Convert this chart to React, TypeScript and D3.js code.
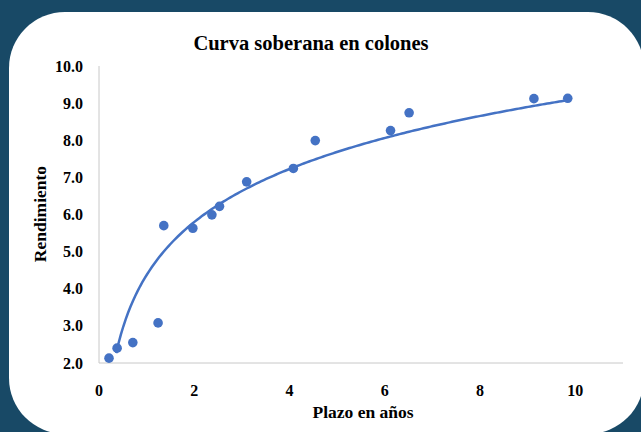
// @ts-nocheck
import { useRef, useEffect } from "react";
import * as d3 from "d3";

// plazo (años) y rendimiento (%)
const plazos = [0.21, 0.38, 0.71, 1.24, 1.36, 1.97, 2.37, 2.53, 3.1, 4.08, 4.54, 6.12, 6.51, 9.13, 9.84];
const rendimientos = [2.13, 2.4, 2.55, 3.08, 5.7, 5.63, 5.99, 6.22, 6.88, 7.24, 7.99, 8.26, 8.74, 9.12, 9.13];
const xTicks = [0, 2, 4, 6, 8, 10];
const yTicks = [2, 3, 4, 5, 6, 7, 8, 9, 10];
// línea de tendencia logarítmica: y = a ln(x) + b
const trendA = 2.06;
const trendB = 4.37;
const trendStart = 0.36;

const W = 641;
const H = 432;

const App = () => {
  const svgRef = useRef();

  useEffect(() => {
    const svg = d3.select(svgRef.current);
    svg.selectAll("*").remove();

    const data = plazos.map((p, i) => ({ x: p, y: rendimientos[i] }));

    // fondo
    svg.append("rect").attr("width", W).attr("height", H).attr("fill", "#184966");
    svg
      .append("rect")
      .attr("x", 9)
      .attr("y", 12)
      .attr("width", 635)
      .attr("height", 422)
      .attr("rx", 56)
      .attr("ry", 56)
      .attr("fill", "#ffffff");

    const x = d3.scaleLinear().domain([0, 11]).range([99, 623]);
    const y = d3.scaleLinear().domain([2, 10]).range([363, 66]);

    const font = "'Liberation Serif', 'DejaVu Serif', serif";

    // ejes
    svg
      .append("line")
      .attr("x1", x(0)).attr("x2", x(0))
      .attr("y1", y(10)).attr("y2", y(2))
      .attr("stroke", "#c8c8c8").attr("stroke-width", 1);
    svg
      .append("line")
      .attr("x1", x(0)).attr("x2", x(11))
      .attr("y1", y(2)).attr("y2", y(2))
      .attr("stroke", "#c8c8c8").attr("stroke-width", 1);

    svg
      .append("g")
      .selectAll("text")
      .data(yTicks)
      .enter()
      .append("text")
      .attr("x", 83)
      .attr("y", (d) => y(d))
      .attr("dy", "0.35em")
      .attr("text-anchor", "end")
      .attr("font-family", font)
      .attr("font-weight", "bold")
      .attr("font-size", 16)
      .text((d) => d.toFixed(1));

    svg
      .append("g")
      .selectAll("text")
      .data(xTicks)
      .enter()
      .append("text")
      .attr("x", (d) => x(d))
      .attr("y", 390)
      .attr("dy", "0.35em")
      .attr("text-anchor", "middle")
      .attr("font-family", font)
      .attr("font-weight", "bold")
      .attr("font-size", 16)
      .text((d) => d);

    const trend = d3.range(trendStart, d3.max(plazos) + 0.001, 0.05).map((t) => ({
      x: t,
      y: trendA * Math.log(t) + trendB,
    }));

    svg
      .append("path")
      .datum(trend)
      .attr("fill", "none")
      .attr("stroke", "#4472c4")
      .attr("stroke-width", 2.5)
      .attr(
        "d",
        d3
          .line()
          .x((d) => x(d.x))
          .y((d) => y(d.y))
      );

    svg
      .append("g")
      .selectAll("circle")
      .data(data)
      .enter()
      .append("circle")
      .attr("cx", (d) => x(d.x))
      .attr("cy", (d) => y(d.y))
      .attr("r", 4.8)
      .attr("fill", "#4472c4");

    // títulos
    svg
      .append("text")
      .attr("x", 311)
      .attr("y", 50)
      .attr("text-anchor", "middle")
      .attr("font-family", font)
      .attr("font-weight", "bold")
      .attr("font-size", 20.5)
      .text("Curva soberana en colones");

    svg
      .append("text")
      .attr("x", 363)
      .attr("y", 418)
      .attr("text-anchor", "middle")
      .attr("font-family", font)
      .attr("font-weight", "bold")
      .attr("font-size", 17.5)
      .text("Plazo en años");

    svg
      .append("text")
      .attr("transform", "translate(46,214) rotate(-90)")
      .attr("text-anchor", "middle")
      .attr("font-family", font)
      .attr("font-weight", "bold")
      .attr("font-size", 17.5)
      .text("Rendimiento");
  }, []);

  return (
    <svg
      ref={svgRef}
      width={W}
      height={H}
      style={{ position: "absolute", left: 0, top: 0, display: "block" }}
    ></svg>
  );
};

export default App;
